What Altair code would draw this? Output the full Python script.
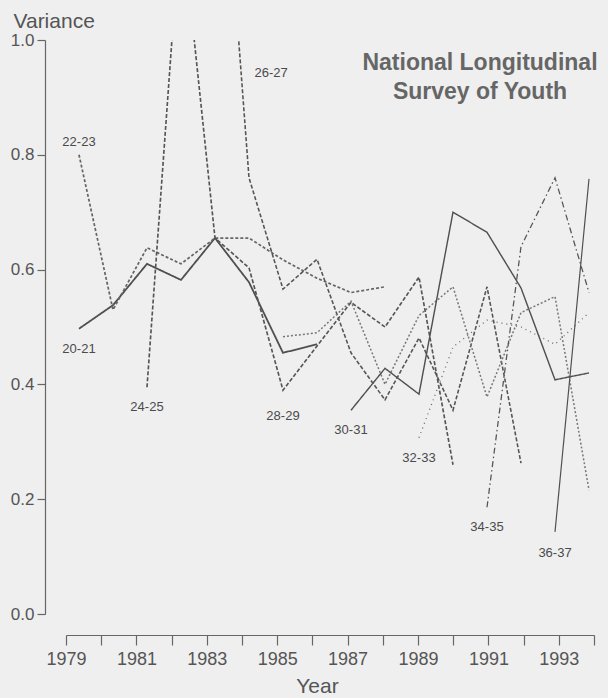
import altair as alt
import pandas as pd

# Age groups, the first survey year of each group, and the yearly variances
series_names = ["20-21", "22-23", "24-25", "26-27", "28-29", "30-31", "32-33", "34-35", "36-37"]
start_years = [1979, 1979, 1981, 1983, 1985, 1987, 1989, 1991, 1993]

v20_21 = [0.497, 0.538, 0.610, 0.582, 0.655, 0.578, 0.455, 0.470]
v22_23 = [0.800, 0.530, 0.638, 0.610, 0.655, 0.655, 0.617, 0.585, 0.560, 0.570]
v24_25 = [0.395, 1.220, 0.655, 0.603, 0.390, 0.467, 0.543, 0.500, 0.587, 0.260]
v26_27 = [1.550, 0.760, 0.566, 0.618, 0.455, 0.373, 0.481, 0.355, 0.570, 0.263]
v28_29 = [0.483, 0.490, 0.545, 0.400, 0.520, 0.570, 0.378, 0.525, 0.553, 0.216]
v30_31 = [0.355, 0.428, 0.383, 0.700, 0.665, 0.568, 0.408, 0.420]
v32_33 = [0.307, 0.465, 0.512, 0.500, 0.470, 0.525]
v34_35 = [0.186, 0.640, 0.760, 0.560]
v36_37 = [0.143, 0.758]

all_values = [v20_21, v22_23, v24_25, v26_27, v28_29, v30_31, v32_33, v34_35, v36_37]

# Where each group's name is written (year, variance)
label_years = [1979, 1979, 1981, 1984.65, 1985, 1987, 1989, 1991, 1993]
label_values = [0.462, 0.822, 0.360, 0.943, 0.345, 0.320, 0.272, 0.152, 0.106]

# Year ticks along the bottom axis
tick_years = list(range(1979, 1995))

rows = []
for name, start, vals in zip(series_names, start_years, all_values):
    for i, v in enumerate(vals):
        rows.append({"series": name, "year": start + i, "value": v})
df = pd.DataFrame(rows)

labels_df = pd.DataFrame({"series": series_names, "year": label_years, "value": label_values})
ticks_df = pd.DataFrame({"year": tick_years})

# Line styling per age group
line_colors = ["#4f4f4f", "#666666", "#555555", "#555555", "#777777",
               "#505050", "#6f6f6f", "#555555", "#505050"]
line_dashes = [[1, 0], [3, 2], [4, 2], [4, 2], [2, 2], [1, 0], [1, 4], [6, 3, 1.5, 3], [1, 0]]
line_widths = [1.8, 1.2, 1.3, 1.3, 1.0, 1.6, 1.6, 2.2, 1.4]

narrow = "'Liberation Sans Narrow', 'Liberation Sans', Arial, sans-serif"
sans = "'Liberation Sans', Arial, sans-serif"
text_color = "#555555"
axis_color = "#666666"

x_data = alt.Scale(domain=[1978.618, 1994.147], nice=False, zero=False)
y_scale = alt.Scale(domain=[0, 1], nice=False, zero=True)
y_axis = alt.Axis(
    values=[0, 0.2, 0.4, 0.6, 0.8, 1.0], format=".1f", offset=21, grid=False,
    labelFlush=False, labelOverlap=False,
    domainColor=axis_color, tickColor=axis_color, tickSize=8, domainWidth=1.2, tickWidth=1.2,
    labelFont=narrow, labelFontSize=17, labelColor=text_color, labelPadding=3,
    title="Variance", titleAngle=0, titleAlign="left", titleBaseline="alphabetic",
    titleX=-32, titleY=-13, titleFont=sans, titleFontSize=21,
    titleFontWeight="normal", titleColor=text_color,
)

lines = alt.Chart(df).mark_line(clip=True).encode(
    x=alt.X("year:Q", scale=x_data, axis=None),
    y=alt.Y("value:Q", scale=y_scale, axis=y_axis),
    detail="series:N",
    color=alt.Color("series:N", scale=alt.Scale(domain=series_names, range=line_colors), legend=None),
    strokeDash=alt.StrokeDash("series:N", scale=alt.Scale(domain=series_names, range=line_dashes), legend=None),
    strokeWidth=alt.StrokeWidth("series:N", scale=alt.Scale(domain=series_names, range=line_widths), legend=None),
)

labels = alt.Chart(labels_df).mark_text(
    font=narrow, fontSize=13, color="#4a4a4a", align="center", baseline="middle"
).encode(
    x=alt.X("year:Q", scale=x_data, axis=None),
    y=alt.Y("value:Q", scale=y_scale, axis=y_axis),
    text="series:N",
)

year_axis = alt.Chart(ticks_df).mark_point(opacity=0).encode(
    x=alt.X(
        "year:Q",
        scale=alt.Scale(domain=[1979, 1994], nice=False, zero=False),
        axis=alt.Axis(
            orient="bottom", values=tick_years, offset=21, grid=False,
            labelFlush=False, labelOverlap=False,
            labelExpr="datum.value % 2 == 1 ? datum.label : ''", format="d",
            domainColor=axis_color, tickColor=axis_color, tickSize=10,
            domainWidth=1.2, tickWidth=1.2,
            labelFont=narrow, labelFontSize=18, labelColor=text_color, labelPadding=5,
            title="Year", titleX=251, titleY=57, titleAlign="center",
            titleBaseline="alphabetic", titleFont=sans, titleFontSize=21,
            titleFontWeight="normal", titleColor=text_color,
        ),
    ),
)

chart = alt.layer(lines, labels, year_axis).resolve_scale(x="independent").properties(
    width=528,
    height=574,
    autosize=alt.AutoSizeParams(type="none"),
    padding={"left": 66, "top": 40, "right": 14, "bottom": 84},
    background="#efefef",
    title=alt.TitleParams(
        text=["National Longitudinal", "Survey of Youth"],
        orient="top", anchor="end", align="center", frame="group",
        dx=-114, dy=94, offset=0, baseline="top", lineHeight=29,
        font=sans, fontSize=23, fontWeight="bold", color="#666666",
    ),
).configure_view(stroke=None)

chart.save("out.html", embed_options={"renderer": "svg", "actions": False})
